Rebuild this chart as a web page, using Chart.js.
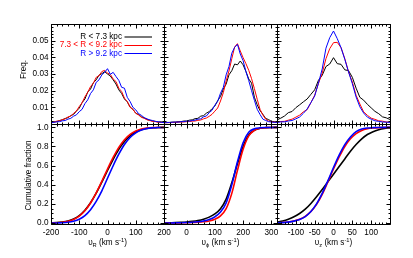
<!DOCTYPE html>
<html>
<head>
<meta charset="utf-8">
<script src="https://cdn.jsdelivr.net/npm/chart.js@4.4.1/dist/chart.umd.min.js"></script>
<style>
  html, body { margin: 0; padding: 0; background: #fff; }
  #wrap { position: relative; width: 413px; height: 258px; }
  #wrap canvas { position: absolute; left: 0; top: 0; }
</style>
</head>
<body>
<div id="wrap">
  <canvas id="freq-r" width="413" height="258"></canvas>
  <canvas id="freq-phi" width="413" height="258"></canvas>
  <canvas id="freq-z" width="413" height="258"></canvas>
  <canvas id="cum-r" width="413" height="258"></canvas>
  <canvas id="cum-phi" width="413" height="258"></canvas>
  <canvas id="cum-z" width="413" height="258"></canvas>
</div>
<script>
const groupLabels = ["R < 7.3 kpc", "7.3 < R < 9.2 kpc", "R > 9.2 kpc"];
const groupColors = ["#000000", "#ff0000", "#0000ff"];

// histogram bins (km/s)
const binsVR = [-200,-190,-180,-170,-160,-150,-140,-130,-120,-110,-100,-90,-80,-70,-60,-50,-40,-30,-20,-10,0,10,20,30,40,50,60,70,80,90,100,110,120,130,140,150,160,170,180,190,200];
const binsVPhi = [-80,-70,-60,-50,-40,-30,-20,-10,0,10,20,30,40,50,60,70,80,90,100,110,120,130,140,150,160,170,180,190,200,210,220,230,240,250,260,270,280,290,300,310,320];
const binsVZ = [-150,-140,-130,-120,-110,-100,-90,-80,-70,-60,-50,-40,-30,-20,-10,0,10,20,30,40,50,60,70,80,90,100,110,120,130,140,150];

// frequency, v_R
const freqVRInner = [0.0010,0.0013,0.0014,0.0021,0.0025,0.0033,0.0038,0.0050,0.0058,0.0078,0.0095,0.0128,0.0150,0.0192,0.0210,0.0248,0.0265,0.0293,0.0302,0.0314,0.0300,0.0288,0.0265,0.0240,0.0205,0.0183,0.0150,0.0133,0.0102,0.0088,0.0065,0.0057,0.0043,0.0037,0.0027,0.0023,0.0017,0.0016,0.0012,0.0013,0.0010];
const freqVRMid = [0.0009,0.0011,0.0017,0.0019,0.0026,0.0031,0.0042,0.0048,0.0064,0.0078,0.0105,0.0127,0.0163,0.0190,0.0225,0.0245,0.0280,0.0290,0.0315,0.0322,0.0305,0.0298,0.0270,0.0255,0.0215,0.0195,0.0155,0.0135,0.0100,0.0088,0.0064,0.0054,0.0040,0.0034,0.0025,0.0021,0.0015,0.0014,0.0010,0.0010,0.0008];
const freqVROuter = [0.0007,0.0010,0.0013,0.0014,0.0019,0.0021,0.0029,0.0034,0.0047,0.0055,0.0074,0.0088,0.0122,0.0145,0.0183,0.0205,0.0250,0.0265,0.0295,0.0310,0.0332,0.0298,0.0310,0.0285,0.0262,0.0220,0.0215,0.0160,0.0135,0.0100,0.0085,0.0062,0.0052,0.0038,0.0031,0.0024,0.0021,0.0015,0.0014,0.0010,0.0009];

// frequency, v_phi
const freqVPhiInner = [0.0008,0.0010,0.0009,0.0012,0.0011,0.0014,0.0014,0.0018,0.0018,0.0023,0.0025,0.0032,0.0034,0.0047,0.0050,0.0065,0.0074,0.0092,0.0108,0.0140,0.0165,0.0210,0.0240,0.0295,0.0320,0.0360,0.0355,0.0378,0.0355,0.0315,0.0270,0.0245,0.0160,0.0115,0.0080,0.0058,0.0033,0.0027,0.0016,0.0014,0.0010];
const freqVPhiMid = [0.0007,0.0008,0.0008,0.0009,0.0010,0.0011,0.0012,0.0012,0.0014,0.0015,0.0017,0.0018,0.0022,0.0024,0.0031,0.0036,0.0046,0.0058,0.0077,0.0096,0.0138,0.0188,0.0258,0.0318,0.0392,0.0462,0.0482,0.0438,0.0398,0.0362,0.0322,0.0272,0.0212,0.0148,0.0088,0.0054,0.0029,0.0018,0.0013,0.0011,0.0010];
const freqVPhiOuter = [0.0008,0.0008,0.0010,0.0010,0.0012,0.0011,0.0014,0.0014,0.0017,0.0017,0.0021,0.0023,0.0029,0.0031,0.0043,0.0048,0.0068,0.0082,0.0113,0.0136,0.0185,0.0220,0.0295,0.0345,0.0425,0.0460,0.0478,0.0420,0.0380,0.0315,0.0260,0.0200,0.0142,0.0088,0.0057,0.0029,0.0021,0.0014,0.0012,0.0010,0.0010];

// frequency, v_z
const freqVZInner = [0.0025,0.0035,0.0048,0.0068,0.0075,0.0098,0.0115,0.0133,0.0150,0.0178,0.0205,0.0262,0.0292,0.0345,0.0360,0.0398,0.0362,0.0358,0.0325,0.0320,0.0280,0.0215,0.0160,0.0143,0.0118,0.0097,0.0076,0.0062,0.0043,0.0037,0.0027];
const freqVZMid = [0.0012,0.0015,0.0016,0.0023,0.0029,0.0041,0.0053,0.0073,0.0086,0.0128,0.0172,0.0243,0.0305,0.0392,0.0452,0.0488,0.0490,0.0458,0.0392,0.0312,0.0252,0.0172,0.0120,0.0073,0.0052,0.0035,0.0028,0.0019,0.0017,0.0012,0.0012];
const freqVZOuter = [0.0009,0.0013,0.0013,0.0018,0.0021,0.0031,0.0042,0.0064,0.0090,0.0128,0.0168,0.0245,0.0330,0.0455,0.0518,0.0558,0.0512,0.0458,0.0388,0.0312,0.0242,0.0162,0.0103,0.0066,0.0041,0.0029,0.0019,0.0016,0.0012,0.0011,0.0010];

// cumulative fraction sample points (km/s)
const cumGridVR = [-200,-180,-160,-140,-120,-100,-80,-60,-40,-20,0,20,40,60,80,100,120,140,160,180,200];
const cumGridVPhi = [-80,-60,-40,-20,0,20,40,60,80,100,120,140,160,180,200,220,240,260,280,300,320];
const cumGridVZ = [-150,-135,-120,-105,-90,-75,-60,-45,-30,-15,0,15,30,45,60,75,90,105,120,135,150];

const cumVRInner = [0.003,0.005,0.011,0.022,0.043,0.078,0.134,0.212,0.312,0.428,0.549,0.666,0.770,0.853,0.912,0.952,0.976,0.988,0.995,0.998,0.999];
const cumVRMid = [0.001,0.003,0.008,0.018,0.038,0.073,0.129,0.210,0.315,0.436,0.564,0.685,0.790,0.871,0.927,0.962,0.982,0.992,0.997,0.999,1.000];
const cumVROuter = [0.000,0.001,0.003,0.008,0.019,0.040,0.078,0.140,0.227,0.337,0.468,0.599,0.719,0.821,0.894,0.943,0.972,0.988,0.995,0.998,0.999];

const cumVPhiInner = [0.000,0.002,0.004,0.007,0.011,0.017,0.026,0.040,0.062,0.095,0.150,0.250,0.420,0.620,0.800,0.920,0.970,0.990,0.997,0.999,1.000];
const cumVPhiMid = [0.000,0.001,0.001,0.002,0.003,0.005,0.008,0.013,0.022,0.040,0.075,0.150,0.310,0.550,0.770,0.910,0.970,0.990,0.997,0.999,1.000];
const cumVPhiOuter = [0.000,0.001,0.002,0.003,0.005,0.008,0.013,0.022,0.037,0.065,0.115,0.210,0.400,0.640,0.840,0.950,0.985,0.995,0.998,0.999,1.000];

const cumVZInner = [0.010,0.022,0.040,0.065,0.100,0.145,0.205,0.275,0.350,0.430,0.510,0.590,0.670,0.750,0.820,0.880,0.925,0.955,0.975,0.988,0.995];
const cumVZMid = [0.002,0.005,0.011,0.022,0.040,0.070,0.120,0.195,0.300,0.430,0.565,0.690,0.800,0.880,0.935,0.968,0.985,0.993,0.997,0.999,1.000];
const cumVZOuter = [0.001,0.004,0.010,0.020,0.037,0.068,0.120,0.200,0.310,0.440,0.580,0.710,0.820,0.900,0.955,0.982,0.993,0.997,0.999,1.000,1.000];

// tick labels
const ticksVR = [-200, -100, 0, 100, 200];
const ticksVPhi = [0, 100, 200, 300];
const ticksVZ = [-100, -50, 0, 50, 100];
const ticksFreq = [0.01, 0.02, 0.03, 0.04, 0.05];
const ticksCum = [0, 0.2, 0.4, 0.6, 0.8, 1.0];

const FONT = "'Liberation Sans', Arial, Helvetica, sans-serif";
const FS = 8.2;
Chart.defaults.font.family = FONT;
Chart.defaults.font.size = FS;
Chart.defaults.color = "#000";

const W = 413, H = 258;
const cols = [[51, 164], [164, 277], [277, 390]];
const rows = [[24, 124], [124, 224]];

// box with inward major + minor ticks on all four sides
const frameTicks = {
  id: "frameTicks",
  afterDatasetsDraw(chart, _args, opts) {
    const { ctx, chartArea: a } = chart;
    const xs = chart.scales.x;
    const ys = chart.scales.y;
    const L = Math.floor(a.left) + 0.5;
    const R = Math.floor(a.right) + 0.5;
    const T = Math.floor(a.top) + 0.5;
    const B = Math.floor(a.bottom) + 0.5;
    ctx.save();
    ctx.strokeStyle = "#000";
    ctx.lineWidth = 1;
    ctx.beginPath();
    ctx.rect(L, T, R - L, B - T);

    const xTick = (v, len) => {
      const px = Math.round(xs.getPixelForValue(v)) + 0.5;
      ctx.moveTo(px, B); ctx.lineTo(px, B - len);
      ctx.moveTo(px, T); ctx.lineTo(px, T + len);
    };
    const yTick = (v, len) => {
      const py = Math.round(ys.getPixelForValue(v)) + 0.5;
      ctx.moveTo(L, py); ctx.lineTo(L + len, py);
      ctx.moveTo(R, py); ctx.lineTo(R - len, py);
    };
    const eps = 1e-9;
    for (let v = Math.ceil(xs.min / opts.xMinor) * opts.xMinor; v <= xs.max + eps; v += opts.xMinor) xTick(v, 2);
    for (let v = Math.ceil(ys.min / opts.yMinor - eps) * opts.yMinor; v <= ys.max + eps; v += opts.yMinor) yTick(v, 2);
    opts.xMajor.forEach((v) => xTick(v, 4));
    opts.yMajor.forEach((v) => yTick(v, 4));
    ctx.stroke();
    ctx.restore();
  },
};

// axis titles: x title with sub/superscripts, rotated y title
const axisTitles = {
  id: "axisTitles",
  afterDraw(chart, _args, opts) {
    const { ctx, chartArea: a } = chart;
    const big = `${FS}px ${FONT}`;
    const small = `${FS * 0.7}px ${FONT}`;
    ctx.save();
    ctx.fillStyle = "#000";
    if (opts.xParts) {
      ctx.textBaseline = "alphabetic";
      let total = 0;
      opts.xParts.forEach((p) => {
        ctx.font = p.sub || p.sup ? small : big;
        total += ctx.measureText(p.t).width;
      });
      let x = (a.left + a.right) / 2 - total / 2;
      const base = a.bottom + opts.xOffset;
      opts.xParts.forEach((p) => {
        ctx.font = p.sub || p.sup ? small : big;
        const dy = p.sub ? 2 : p.sup ? -3.5 : 0;
        ctx.fillText(p.t, x, base + dy);
        x += ctx.measureText(p.t).width;
      });
    }
    if (opts.yText) {
      ctx.font = big;
      ctx.textAlign = "center";
      ctx.textBaseline = "middle";
      ctx.translate(opts.yX, (a.top + a.bottom) / 2 + opts.yShift);
      ctx.rotate(-Math.PI / 2);
      ctx.fillText(opts.yText, 0, 0);
    }
    ctx.restore();
  },
};

// legend: right-aligned text with a line sample to its right
const lineLegend = {
  id: "lineLegend",
  afterDraw(chart, _args, opts) {
    if (!opts.show) return;
    const { ctx, chartArea: a } = chart;
    ctx.save();
    ctx.font = `${FS}px ${FONT}`;
    ctx.textAlign = "right";
    ctx.textBaseline = "middle";
    chart.data.datasets.forEach((ds, i) => {
      const y = a.top + 13 + i * 8.2;
      ctx.fillStyle = ds.borderColor;
      ctx.fillText(ds.label, a.right - 42, y);
      ctx.strokeStyle = i === 0 ? "#777" : ds.borderColor;
      ctx.lineWidth = i === 0 ? 2 : 1;
      ctx.beginPath();
      const ly = Math.round(y) + (i === 0 ? 0 : 0.5);
      ctx.moveTo(a.right - 39.5, ly);
      ctx.lineTo(a.right - 12, ly);
      ctx.stroke();
    });
    ctx.restore();
  },
};

function makePanel(id, cfg) {
  const [left, right] = cols[cfg.col];
  const [top, bottom] = rows[cfg.row];
  const isTop = cfg.row === 0;
  const hasY = cfg.col === 0;

  const datasets = cfg.series.map((vals, i) => ({
    label: groupLabels[i],
    data: cfg.xs.map((v, k) => ({ x: v, y: vals[k] })),
    borderColor: groupColors[i],
    borderWidth: isTop ? 1 : 1.6,
    pointRadius: 0,
    fill: false,
    cubicInterpolationMode: isTop ? "default" : "monotone",
    tension: 0,
    order: 3 - i,
  }));

  return new Chart(document.getElementById(id), {
    type: "line",
    data: { datasets },
    plugins: [frameTicks, axisTitles, lineLegend],
    options: {
      responsive: false,
      animation: false,
      devicePixelRatio: 1,
      layout: {
        padding: {
          left: hasY ? 0 : left,
          right: W - right,
          top: top,
          bottom: isTop ? H - bottom : 0,
        },
      },
      plugins: {
        legend: { display: false },
        tooltip: { enabled: false },
        frameTicks: {
          xMajor: cfg.xTicks,
          xMinor: cfg.xMinor,
          yMajor: isTop ? [0, ...ticksFreq, 0.06] : ticksCum,
          yMinor: isTop ? 0.002 : 0.05,
        },
        axisTitles: {
          xParts: isTop ? null : cfg.xTitle,
          xOffset: 21,
          yText: hasY ? (isTop ? "Freq." : "Cumulative fraction") : null,
          yX: isTop ? 23.5 : 29,
          yShift: isTop ? -4.5 : 1.5,
        },
        lineLegend: { show: !!cfg.legend },
      },
      scales: {
        x: {
          type: "linear",
          min: cfg.xMin,
          max: cfg.xMax,
          display: !isTop,
          grid: { display: false, drawTicks: false },
          border: { display: false },
          ticks: {
            autoSkip: false,
            maxRotation: 0,
            padding: 4,
            color: "#000",
            callback: (v) => String(v),
          },
          afterBuildTicks: (s) => {
            s.ticks = cfg.xTicks.map((v) => ({ value: v }));
          },
          afterFit: (s) => {
            if (!isTop) s.height = H - bottom;
          },
        },
        y: {
          type: "linear",
          min: isTop ? 0 : -0.01,
          max: isTop ? 0.06 : 1.035,
          display: hasY,
          grid: { display: false, drawTicks: false },
          border: { display: false },
          ticks: {
            padding: 2.5,
            color: "#000",
            callback: (v) => (isTop ? Number(v).toFixed(2) : Number(v).toFixed(1)),
          },
          afterBuildTicks: (s) => {
            s.ticks = (isTop ? ticksFreq : ticksCum).map((v) => ({ value: v }));
          },
          afterFit: (s) => {
            if (hasY) s.width = left;
          },
        },
      },
    },
  });
}

const titleVR = [{ t: "υ" }, { t: "R", sub: true }, { t: " (km s" }, { t: "-1", sup: true }, { t: ")" }];
const titleVPhi = [{ t: "υ" }, { t: "ϕ", sub: true }, { t: " (km s" }, { t: "-1", sup: true }, { t: ")" }];
const titleVZ = [{ t: "υ" }, { t: "z", sub: true }, { t: " (km s" }, { t: "-1", sup: true }, { t: ")" }];

makePanel("freq-r", { row: 0, col: 0, xs: binsVR, series: [freqVRInner, freqVRMid, freqVROuter], xMin: -200, xMax: 200, xTicks: ticksVR, xMinor: 20, legend: true });
makePanel("freq-phi", { row: 0, col: 1, xs: binsVPhi, series: [freqVPhiInner, freqVPhiMid, freqVPhiOuter], xMin: -80, xMax: 320, xTicks: ticksVPhi, xMinor: 20 });
makePanel("freq-z", { row: 0, col: 2, xs: binsVZ, series: [freqVZInner, freqVZMid, freqVZOuter], xMin: -150, xMax: 150, xTicks: ticksVZ, xMinor: 10 });
makePanel("cum-r", { row: 1, col: 0, xs: cumGridVR, series: [cumVRInner, cumVRMid, cumVROuter], xMin: -200, xMax: 200, xTicks: ticksVR, xMinor: 20, xTitle: titleVR });
makePanel("cum-phi", { row: 1, col: 1, xs: cumGridVPhi, series: [cumVPhiInner, cumVPhiMid, cumVPhiOuter], xMin: -80, xMax: 320, xTicks: ticksVPhi, xMinor: 20, xTitle: titleVPhi });
makePanel("cum-z", { row: 1, col: 2, xs: cumGridVZ, series: [cumVZInner, cumVZMid, cumVZOuter], xMin: -150, xMax: 150, xTicks: ticksVZ, xMinor: 10, xTitle: titleVZ });
</script>
</body>
</html>
